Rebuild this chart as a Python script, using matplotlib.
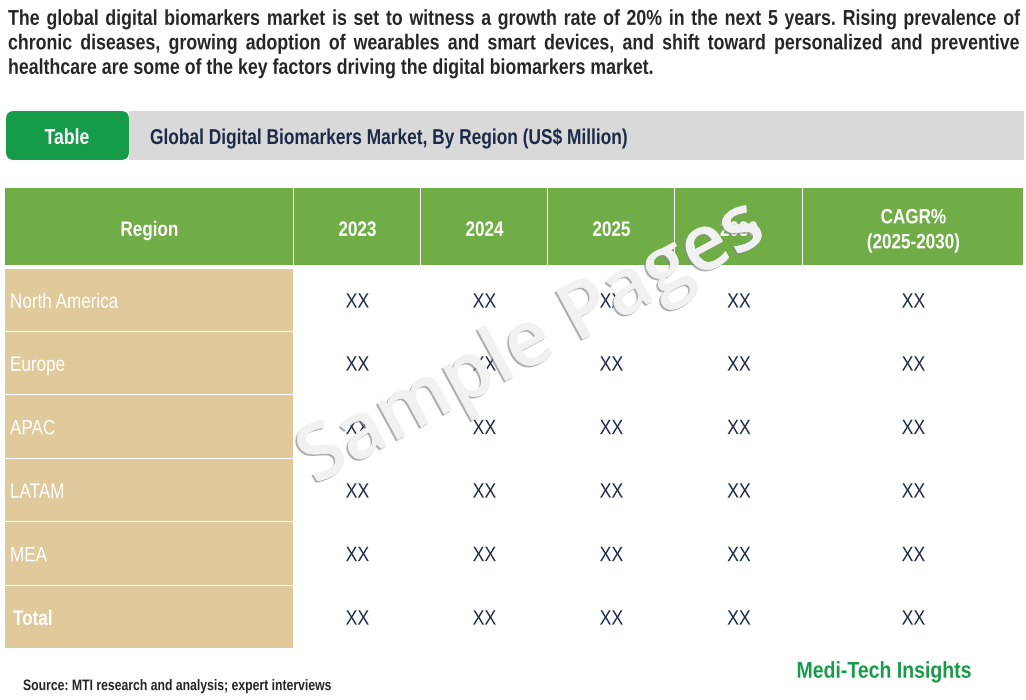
import matplotlib
matplotlib.use("Agg")
import matplotlib.pyplot as plt
import matplotlib.patheffects as pe
from matplotlib.patches import Rectangle, FancyBboxPatch
from matplotlib.transforms import Affine2D

plt.rcParams['font.family'] = ['Liberation Sans', 'DejaVu Sans']

intro_lines = [
	"The global digital biomarkers market is set to witness a growth rate of 20% in the next 5 years. Rising prevalence of",
	"chronic diseases, growing adoption of wearables and smart devices, and shift toward personalized and preventive",
	"healthcare are some of the key factors driving the digital biomarkers market.",
]
table_tag = "Table"
table_title = "Global Digital Biomarkers Market, By Region (US$ Million)"
headers = ["Region", "2023", "2024", "2025", "2030", "CAGR%\n(2025-2030)"]
regions = ["North America", "Europe", "APAC", "LATAM", "MEA", "Total"]
cell_values = ["XX", "XX", "XX", "XX", "XX"]
source = "Source: MTI research and analysis; expert interviews"
brand = "Medi-Tech Insights"
watermark = "Sample Pages"

col_x = [5, 294, 421, 548, 675, 803, 1024]
row_y = [269, 332, 395, 459, 522, 586, 649]

GREEN = "#70ad47"
TAN = "#e0c99b"
NAVY = "#1b2a47"
DARK = "#262626"

fig = plt.figure(figsize=(10.26, 7), dpi=100)
ax = fig.add_axes([0, 0, 1, 1])
ax.set_xlim(0, 1026)
ax.set_ylim(700, 0)
ax.axis("off")
rend = fig.canvas.get_renderer()


# the source uses a narrow font and none is installed:
# set the text at the narrow width and stretch the glyphs up to full height
class Tall(pe.AbstractPathEffect):
	def __init__(self, sy):
		super().__init__()
		self.sy = sy

	def draw_path(self, renderer, gc, tpath, affine, rgbFace=None):
		renderer.draw_path(gc, tpath, Affine2D().scale(1, self.sy) + affine, rgbFace)


def put(x, y, s, size, ha="left", sx=0.82, **kw):
	dy = 0.358 * size * (1 - sx) * 100 / 72
	return ax.text(x, y + dy, s, ha=ha, va="center", fontsize=size * sx,
		path_effects=[Tall(1 / sx)], **kw)


def justified(y, words, x0, x1, size, sx=0.82, **kw):
	placed = [put(0, y, w, size, sx=sx, **kw) for w in words]
	widths = [t.get_window_extent(rend).width for t in placed]
	gap = (x1 - x0 - sum(widths)) / (len(words) - 1)
	x = x0
	for t, w in zip(placed, widths):
		t.set_x(x)
		x += w + gap


# intro paragraph, last line is not justified
for i, line in enumerate(intro_lines):
	y = 19 + i * 24.5
	if i < 2:
		justified(y, line.split(" "), 8, 1020, 15.5, sx=0.825, fontweight="bold", color=DARK)
	else:
		put(8, y, line, 15.5, sx=0.825, fontweight="bold", color=DARK)

# title band
ax.add_patch(Rectangle((129, 111), 895, 49, fc="#d9d9d9", ec="none"))
ax.add_patch(FancyBboxPatch((13, 118), 109, 35, boxstyle="round,pad=7,rounding_size=8", fc="#169b48", ec="none"))
put(67, 138, table_tag, 15.5, ha="center", fontweight="bold", color="white")
put(150, 138, table_title, 15.5, sx=0.805, fontweight="bold", color=NAVY)

# header row
for i, h in enumerate(headers):
	ax.add_patch(Rectangle((col_x[i], 188), col_x[i + 1] - col_x[i] - 1, 77, fc=GREEN, ec="none"))
	cx = (col_x[i] + col_x[i + 1]) / 2
	parts = h.split("\n")
	for j, part in enumerate(parts):
		yy = 230 + (j - (len(parts) - 1) / 2) * 25
		put(cx, yy, part, 15, ha="center", fontweight="bold", color="white")

# body rows
for r, name in enumerate(regions):
	top = row_y[r]
	bottom = row_y[r + 1] - 1
	mid = (top + bottom) / 2
	ax.add_patch(Rectangle((col_x[0], top), col_x[1] - col_x[0] - 1, bottom - top, fc=TAN, ec="none"))
	if name == "Total":
		put(13, mid + 2, name, 15, fontweight="bold", color="white")
	else:
		put(10, mid + 2, name, 15, color="white")
	for c, v in enumerate(cell_values):
		put((col_x[c + 1] + col_x[c + 2]) / 2, mid + 2, v, 15, ha="center", sx=0.85, color=NAVY)

# footer
put(23, 686, source, 11, sx=0.8, fontweight="bold", color=DARK)
put(884, 672, brand, 16.5, ha="center", sx=0.85, fontweight="bold", color="#169b48")

# watermark across the table
ax.text(532, 344, watermark, ha="center", va="center", rotation=28.5, rotation_mode="anchor",
	family="Open Sans", fontweight="semibold", fontsize=56, color="#f1f1f1", zorder=5,
	path_effects=[pe.withSimplePatchShadow(offset=(-1.2, -1.2), shadow_rgbFace="#8c8c8c", alpha=0.7), pe.Normal()])

fig.savefig("out.png", dpi=100)
